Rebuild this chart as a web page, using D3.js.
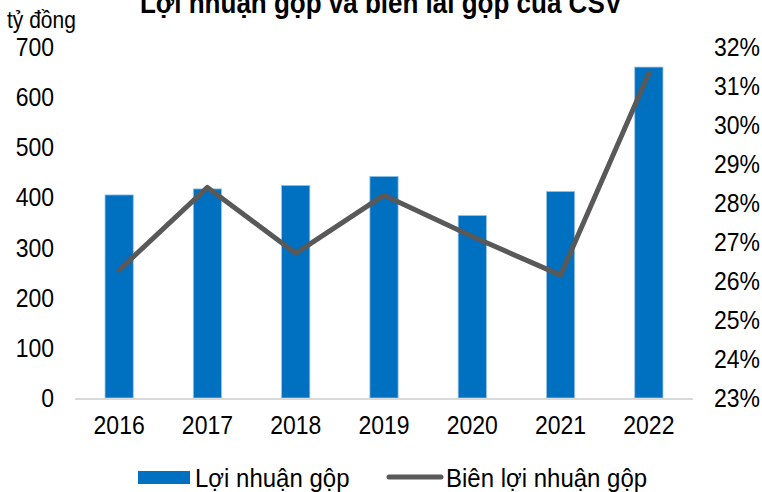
<!DOCTYPE html>
<meta charset="utf-8">
<style>
  body { margin: 0; background: #fff; }
  text { font-family: "Liberation Sans", Arial, sans-serif; fill: #000; }
</style>
<body>
<div id="chart"></div>
<script src="https://d3js.org/d3.v7.min.js"></script>
<script>
var years = ["2016", "2017", "2018", "2019", "2020", "2021", "2022"];
var grossProfit = [405, 417, 424, 442, 364, 412, 660];
var grossMargin = [26.28, 28.40, 26.71, 28.20, 27.14, 26.15, 31.33];
var leftTicks = [0, 100, 200, 300, 400, 500, 600, 700];
var rightTicks = [23, 24, 25, 26, 27, 28, 29, 30, 31, 32];

var width = 762, height = 492;
var plotLeft = 75, plotRight = 693, plotTop = 47, plotBottom = 398;
var stretch = 1.1;

var svg = d3.select("#chart").append("svg")
    .attr("width", width)
    .attr("height", height);

var x = d3.scaleBand().domain(years).range([plotLeft, plotRight]).paddingInner(0.68).paddingOuter(0.34);
var y = d3.scaleLinear().domain([0, 700]).range([plotBottom, plotTop]);
var y2 = d3.scaleLinear().domain([23, 32]).range([plotBottom, plotTop]);

function label(g, tx, ty, size, anchor, str) {
  return g.append("text")
      .attr("transform", "translate(" + tx + "," + ty + ") scale(1," + stretch + ")")
      .attr("text-anchor", anchor)
      .style("font-size", size + "px")
      .text(str);
}

// title (cut off at the top)
label(svg, 381, 13, 26, "middle", "Lợi nhuận gộp và biên lãi gộp của CSV")
    .style("font-weight", "bold");

label(svg, 7, 28, 21, "start", "tỷ đồng");

// bars
svg.selectAll("rect.bar")
    .data(grossProfit)
  .enter().append("rect")
    .attr("class", "bar")
    .attr("x", function(d, i) { return x(years[i]); })
    .attr("y", function(d) { return y(d); })
    .attr("width", x.bandwidth())
    .attr("height", function(d) { return plotBottom - y(d); })
    .attr("fill", "#0070C0")
    .attr("stroke", "#9DC3E6")
    .attr("stroke-width", 0.8);

// baseline
svg.append("line")
    .attr("x1", plotLeft).attr("x2", plotRight)
    .attr("y1", plotBottom + 1).attr("y2", plotBottom + 1)
    .attr("stroke", "#d9d9d9").attr("stroke-width", 2);

// margin line
var line = d3.line()
    .x(function(d, i) { return x(years[i]) + x.bandwidth() / 2; })
    .y(function(d) { return y2(d); });

svg.append("path")
    .datum(grossMargin)
    .attr("d", line)
    .attr("fill", "none")
    .attr("stroke", "#595959")
    .attr("stroke-width", 5)
    .attr("stroke-linejoin", "round")
    .attr("stroke-linecap", "round");

// left axis labels
leftTicks.forEach(function(d) {
  label(svg, 54, y(d) + 9, 23, "end", d);
});

// right axis labels
rightTicks.forEach(function(d) {
  label(svg, 714, y2(d) + 9, 23, "start", d + "%");
});

// x labels
years.forEach(function(d) {
  label(svg, x(d) + x.bandwidth() / 2, 434, 23, "middle", d);
});

// legend
var lg = svg.append("g");
lg.append("rect")
    .attr("x", 138).attr("y", 471)
    .attr("width", 52).attr("height", 13)
    .attr("fill", "#0070C0");
label(lg, 195, 487, 24, "start", "Lợi nhuận gộp");
lg.append("line")
    .attr("x1", 389).attr("x2", 441)
    .attr("y1", 477).attr("y2", 477)
    .attr("stroke", "#595959").attr("stroke-width", 5)
    .attr("stroke-linecap", "round");
label(lg, 446, 487, 24, "start", "Biên lợi nhuận gộp");
</script>
</body>
